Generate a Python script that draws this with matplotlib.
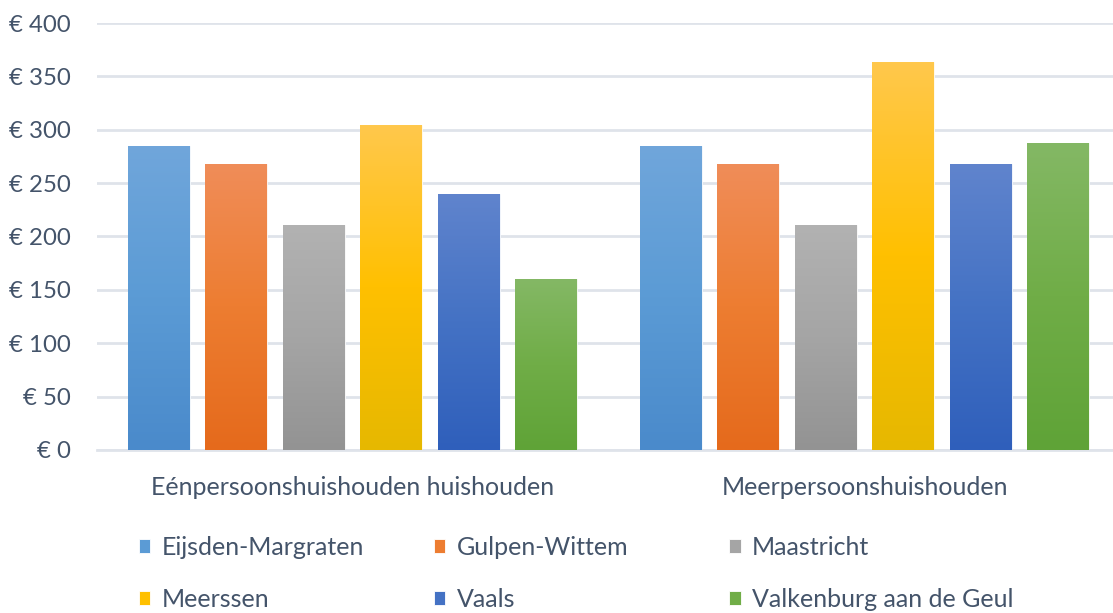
import numpy as np
import matplotlib
matplotlib.use('Agg')
import matplotlib.pyplot as plt
from matplotlib.colors import LinearSegmentedColormap

plt.rcParams['font.family'] = ['Lato', 'DejaVu Sans']

categories = ['Eénpersoonshuishouden huishouden', 'Meerpersoonshuishouden']
gemeenten = ['Eijsden-Margraten', 'Gulpen-Wittem', 'Maastricht',
             'Meerssen', 'Vaals', 'Valkenburg aan de Geul']
eijsden = [285, 285]
gulpen = [268, 268]
maastricht = [211, 211]
meerssen = [304, 363]
vaals = [240, 268]
valkenburg = [160, 288]
yticks = [0, 50, 100, 150, 200, 250, 300, 350, 400]
ylabels = ['€ ' + str(v) for v in yticks]

series = [eijsden, gulpen, maastricht, meerssen, vaals, valkenburg]
# top, middle, bottom of the excel style gradient
colours = [('#70a6db', '#5b9bd5', '#4a8acb'),
           ('#f08d59', '#ed7d31', '#e56a1c'),
           ('#b2b2b2', '#a5a5a5', '#939393'),
           ('#ffc84c', '#ffc000', '#e6b800'),
           ('#6084cd', '#4472c4', '#2f5fbb'),
           ('#84b865', '#70ad47', '#5fa337')]
textcol = '#44546a'
gridcol = '#dfe3ea'
fs = 18

fig = plt.figure(figsize=(11.13, 6.13), dpi=100)
ax = fig.add_axes([97/1113, 163/613, 1016/1113, 427/613])

x = np.arange(len(categories))
width = 0.121
pitch = 0.1514
handles = []
for i, vals in enumerate(series):
    top, mid, bot = colours[i]
    bars = ax.bar(x + (i - 2.5) * pitch, vals, width, color=mid,
                  edgecolor='white', linewidth=0.6, zorder=2, label=gemeenten[i])
    handles.append(bars)
    cmap = LinearSegmentedColormap.from_list('g%d' % i, [bot, mid, top])
    grad = np.linspace(1, 0, 256).reshape(-1, 1)
    for b in bars:
        bx, by = b.get_xy()
        im = ax.imshow(grad, cmap=cmap, aspect='auto', zorder=3,
                       extent=[bx, bx + b.get_width(), by, by + b.get_height()])
        im.set_clip_path(b)

ax.set_xlim(-0.499, 1.485)
ax.set_ylim(0, 400)
ax.set_yticks(yticks)
ax.set_yticklabels(ylabels)
ax.set_xticks(x)
ax.set_xticklabels(categories)
ax.tick_params(axis='y', length=0, pad=19, labelsize=17.3, labelcolor=textcol)
ax.tick_params(axis='x', length=0, pad=19, labelsize=fs, labelcolor=textcol)
ax.grid(axis='y', color=gridcol, linewidth=2, zorder=0)
ax.set_axisbelow(True)
for s in ['top', 'right', 'left']:
    ax.spines[s].set_visible(False)
ax.spines['bottom'].set_color(gridcol)
ax.spines['bottom'].set_linewidth(2)

# legend: three columns placed like excel does
col_x = [138.5, 433.6, 729]
for c in range(3):
    hs = [handles[c], handles[c + 3]]
    leg = fig.legend(hs, [gemeenten[c], gemeenten[c + 3]], loc='center left',
                     bbox_to_anchor=(col_x[c] / 1113, (613 - 573.5) / 613),
                     frameon=False, fontsize=fs, labelcolor=textcol,
                     handlelength=0.47, handleheight=0.47, handletextpad=0.45,
                     labelspacing=1.17, borderpad=0, borderaxespad=0)

fig.savefig('out.png', dpi=100)
